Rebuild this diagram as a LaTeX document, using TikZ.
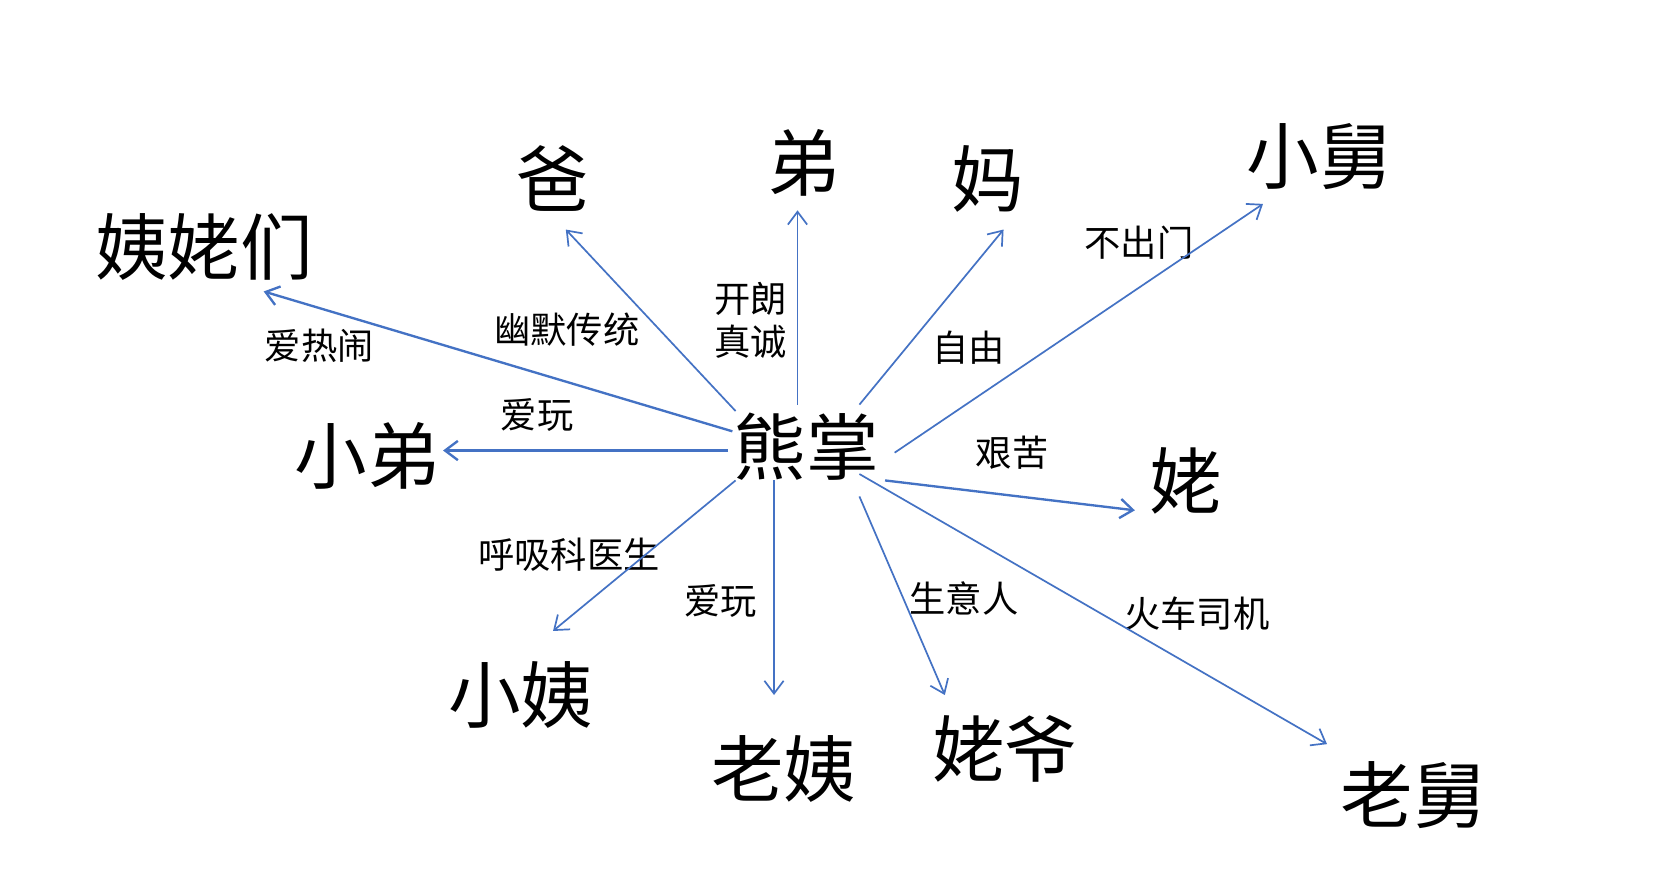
\documentclass[tikz,border=0pt]{standalone}
\usepackage{fontspec}
\newfontfamily\cjk{Noto Sans CJK SC}
\usetikzlibrary{arrows.meta}
\definecolor{lineblue}{HTML}{4472C4}
\begin{document}
\begin{tikzpicture}[x=0.5pt,y=-0.5pt,
  big/.style={font=\cjk\fontsize{34}{40}\selectfont, inner sep=0pt, anchor=center},
  lbl/.style={font=\cjk\fontsize{17}{20}\selectfont, inner sep=0pt, anchor=center, align=center},
  rel/.style={draw=lineblue, line width=0.8pt, -{Straight Barb[length=6pt,width=9pt]}},
  relb/.style={rel, line width=1.1pt}]
\fill[white] (0,0) rectangle (1568,826);
\useasboundingbox (0,0) rectangle (1568,826);

% main nodes
\node[big] (xz)  at (755,418) {熊掌};
\node[big] (ba)  at (518,167) {爸};
\node[big] (di)  at (753,153) {弟};
\node[big] (ma)  at (925,168) {妈};
\node[big] (xj)  at (1236,147) {小舅};
\node[big] (ylm) at (191,231) {姨姥们};
\node[big] (xd)  at (344,427) {小弟};
\node[big] (lao) at (1111,450) {姥};
\node[big] (xy)  at (488,651) {小姨};
\node[big] (ly)  at (734,720) {老姨};
\node[big] (lye) at (941,701) {姥爷};
\node[big] (ljo) at (1324,745) {老舅};

% labels
\node[lbl] (t1)  at (299,324) {爱热闹};
\node[lbl] (t2)  at (531,309) {幽默传统};
\node[lbl] (t3)  at (703,300) {开朗\\真诚};
\node[lbl] (t4)  at (907,326) {自由};
\node[lbl] (t5)  at (1067,227) {不出门};
\node[lbl] (t6)  at (503,389) {爱玩};
\node[lbl] (t7)  at (948,424) {艰苦};
\node[lbl] (t8)  at (533,520) {呼吸科医生};
\node[lbl] (t9)  at (675,563) {爱玩};
\node[lbl] (t10) at (903,561) {生意人};
\node[lbl] (t11) at (1121,575) {火车司机};

% connector ends
\coordinate (sBa)  at (689,385);  \coordinate (eBa)  at (530,215);
\coordinate (sDi)  at (747,379);  \coordinate (eDi)  at (747,197);
\coordinate (sMa)  at (805,379);  \coordinate (eMa)  at (940,215);
\coordinate (sXj)  at (838,424);  \coordinate (eXj)  at (1183,191);
\coordinate (sYlm) at (686,404);  \coordinate (eYlm) at (247,273);
\coordinate (sXd)  at (682,422);  \coordinate (eXd)  at (415,422);
\coordinate (sLao) at (829,450);  \coordinate (eLao) at (1063,478);
\coordinate (sXy)  at (689,450);  \coordinate (eXy)  at (518,591);
\coordinate (sLy)  at (725,450);  \coordinate (eLy)  at (725,651);
\coordinate (sLye) at (805,465);  \coordinate (eLye) at (885,651);
\coordinate (sLjo) at (805,444);  \coordinate (eLjo) at (1243,697);

\draw[rel]  (sBa)  -- (eBa);
\draw[rel]  (sDi)  -- (eDi);
\draw[rel]  (sMa)  -- (eMa);
\draw[rel]  (sXj)  -- (eXj);
\draw[relb] (sYlm) -- (eYlm);
\draw[relb] (sXd)  -- (eXd);
\draw[relb] (sLao) -- (eLao);
\draw[rel]  (sXy)  -- (eXy);
\draw[rel]  (sLy)  -- (eLy);
\draw[rel]  (sLye) -- (eLye);
\draw[rel]  (sLjo) -- (eLjo);
\end{tikzpicture}
\end{document}
